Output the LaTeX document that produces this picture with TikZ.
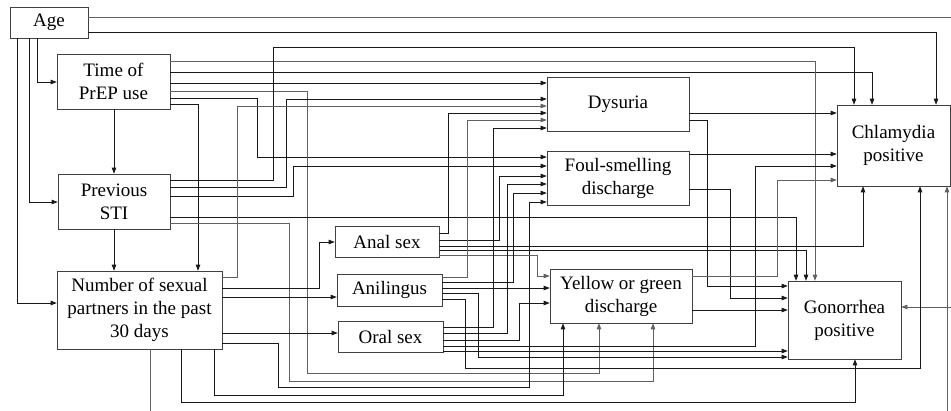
\documentclass[tikz,border=0pt]{standalone}
\usepackage{fontspec}
\setmainfont{Liberation Serif}
\usetikzlibrary{arrows.meta}
\begin{document}
\begin{tikzpicture}[x=1pt,y=-1pt,
  box/.style={draw=black!75,line width=0.6pt,fill=white,inner sep=0pt,align=center,
    font=\fontsize{19}{23}\selectfont},
  edge/.style={draw=black!90,line width=0.75pt,-{Triangle[length=6pt,width=4.5pt]}},
  edgeg/.style={edge,draw=black!62}]
\fill[white] (0,0) rectangle (951,410);
\useasboundingbox (0,0) rectangle (951,410);
% nodes
\node[box,minimum width=78pt,minimum height=31pt] (age) at (49,22.5) {Age};
\node[box,minimum width=113pt,minimum height=55pt] (time) at (113.5,81.5) {Time of\\PrEP use};
\node[box,minimum width=112pt,minimum height=55pt] (sti) at (114,201.5) {Previous\\STI};
\node[box,minimum width=165pt,minimum height=78pt] (num) at (139.5,310) {Number of sexual\\partners in the past\\30 days};
\node[box,minimum width=104pt,minimum height=31pt] (anal) at (387,241.5) {Anal sex};
\node[box,minimum width=105pt,minimum height=32pt] (anil) at (389.5,290) {Anilingus};
\node[box,minimum width=105pt,minimum height=31pt] (oral) at (390.5,336.5) {Oral sex};
\node[box,minimum width=142pt,minimum height=54pt] (dys) at (618,104) {Dysuria};
\node[box,minimum width=142pt,minimum height=54pt] (foul) at (618,178) {Foul-smelling\\discharge};
\node[box,minimum width=142pt,minimum height=54pt] (yel) at (621,296) {Yellow or green\\discharge};
\node[box,minimum width=113pt,minimum height=81pt] (chl) at (893.5,145.5) {Chlamydia\\positive};
\node[box,minimum width=113pt,minimum height=78pt] (gon) at (844.5,320) {Gonorrhea\\positive};
% Age
\draw[edge] (age.south -| 37,0) -- (37,82) -- (time.west |- 0,82);
\draw[edge] (age.south -| 29,0) -- (29,202) -- (sti.west |- 0,202);
\draw[edge] (age.south -| 17,0) -- (17,303) -- (num.west |- 0,303);
\draw[edge] (age.east |- 0,32) -- (936,32) -- (chl.north -| 936,0);
\draw[edgeg] (age.east |- 0,17) -- (965,17) -- (965,307) -- (gon.east |- 0,307);
% Time of PrEP use
\draw[edge] (time.south -| 114,0) -- (sti.north -| 114,0);
\draw[edge] (time.east |- 0,104) -- (198,104) -- (num.north -| 198,0);
\draw[edge] (time.east |- 0,83) -- (dys.west |- 0,83);
\draw[edge] (time.east |- 0,98) -- (257,98) -- (257,157) -- (foul.west |- 0,157);
\draw[edgeg] (time.east |- 0,91) -- (307,91) -- (307,373) -- (599,373) -- (yel.south -| 599,0);
\draw[edge] (time.east |- 0,72) -- (872,72) -- (chl.north -| 872,0);
\draw[edgeg] (time.east |- 0,61) -- (815,61) -- (gon.north -| 815,0);
% Previous STI
\draw[edge] (sti.south -| 114,0) -- (num.north -| 114,0);
\draw[edge] (sti.east |- 0,180) -- (273,180) -- (273,47) -- (854,47) -- (chl.north -| 854,0);
\draw[edge] (sti.east |- 0,187) -- (286,187) -- (286,99) -- (dys.west |- 0,99);
\draw[edge] (sti.east |- 0,196) -- (293,196) -- (293,166) -- (foul.west |- 0,166);
\draw[edge] (sti.east |- 0,217) -- (796,217) -- (gon.north -| 796,0);
\draw[edgeg] (sti.east |- 0,223) -- (289,223) -- (289,381) -- (653,381) -- (yel.south -| 653,0);
% Number of sexual partners
\draw[edgeg] (num.east |- 0,277) -- (237,277) -- (237,106) -- (dys.west |- 0,106);
\draw[edge] (num.east |- 0,288) -- (319,288) -- (319,242) -- (anal.west |- 0,242);
\draw[edge] (num.east |- 0,297) -- (anil.west |- 0,297);
\draw[edge] (num.east |- 0,333) -- (oral.west |- 0,333);
\draw[edge] (num.east |- 0,343) -- (278,343) -- (278,387) -- (529,387) -- (529,202) -- (foul.west |- 0,202);
\draw[edge] (num.south -| 214,0) -- (214,395) -- (563,395) -- (yel.south -| 563,0);
\draw[edge] (num.south -| 181,0) -- (181,402) -- (855,402) -- (gon.south -| 855,0);
\draw[edgeg] (num.south -| 150,0) -- (150,425) -- (947,425) -- (chl.south -| 947,0);
% Anal sex
\draw[edge] (anal.east |- 0,233) -- (448,233) -- (448,113) -- (dys.west |- 0,113);
\draw[edge] (anal.east |- 0,240) -- (499,240) -- (499,176) -- (foul.west |- 0,176);
\draw[edge] (anal.east |- 0,246) -- (863,246) -- (chl.south -| 863,0);
\draw[edge] (anal.east |- 0,250) -- (806,250) -- (gon.north -| 806,0);
\draw[edgeg] (anal.east |- 0,255) -- (537,255) -- (537,276) -- (yel.west |- 0,276);
% Anilingus
\draw[edgeg] (anil.east |- 0,277) -- (467,277) -- (467,120) -- (dys.west |- 0,120);
\draw[edge] (anil.east |- 0,282) -- (513,282) -- (513,193) -- (foul.west |- 0,193);
\draw[edge] (anil.east |- 0,288) -- (yel.west |- 0,288);
\draw[edge] (anil.east |- 0,293) -- (478,293) -- (478,357) -- (gon.west |- 0,357);
\draw[edge] (anil.east |- 0,299) -- (465,299) -- (465,368) -- (920,368) -- (chl.south -| 920,0);
% Oral sex
\draw[edge] (oral.east |- 0,327) -- (493,327) -- (493,128) -- (dys.west |- 0,128);
\draw[edge] (oral.east |- 0,333) -- (507,333) -- (507,184) -- (foul.west |- 0,184);
\draw[edge] (oral.east |- 0,340) -- (519,340) -- (519,303) -- (yel.west |- 0,303);
\draw[edge] (oral.east |- 0,346) -- (755,346) -- (755,166) -- (chl.west |- 0,166);
\draw[edge] (oral.east |- 0,351) -- (gon.west |- 0,351);
% Symptoms
\draw[edge] (dys.east |- 0,113) -- (chl.west |- 0,113);
\draw[edge] (dys.east |- 0,120) -- (707,120) -- (707,286) -- (gon.west |- 0,286);
\draw[edge] (foul.east |- 0,154) -- (chl.west |- 0,154);
\draw[edge] (foul.east |- 0,189) -- (730,189) -- (730,298) -- (gon.west |- 0,298);
\draw[edgeg] (yel.east |- 0,276) -- (777,276) -- (777,180) -- (chl.west |- 0,180);
\draw[edge] (yel.east |- 0,310) -- (gon.west |- 0,310);
\end{tikzpicture}
\end{document}
